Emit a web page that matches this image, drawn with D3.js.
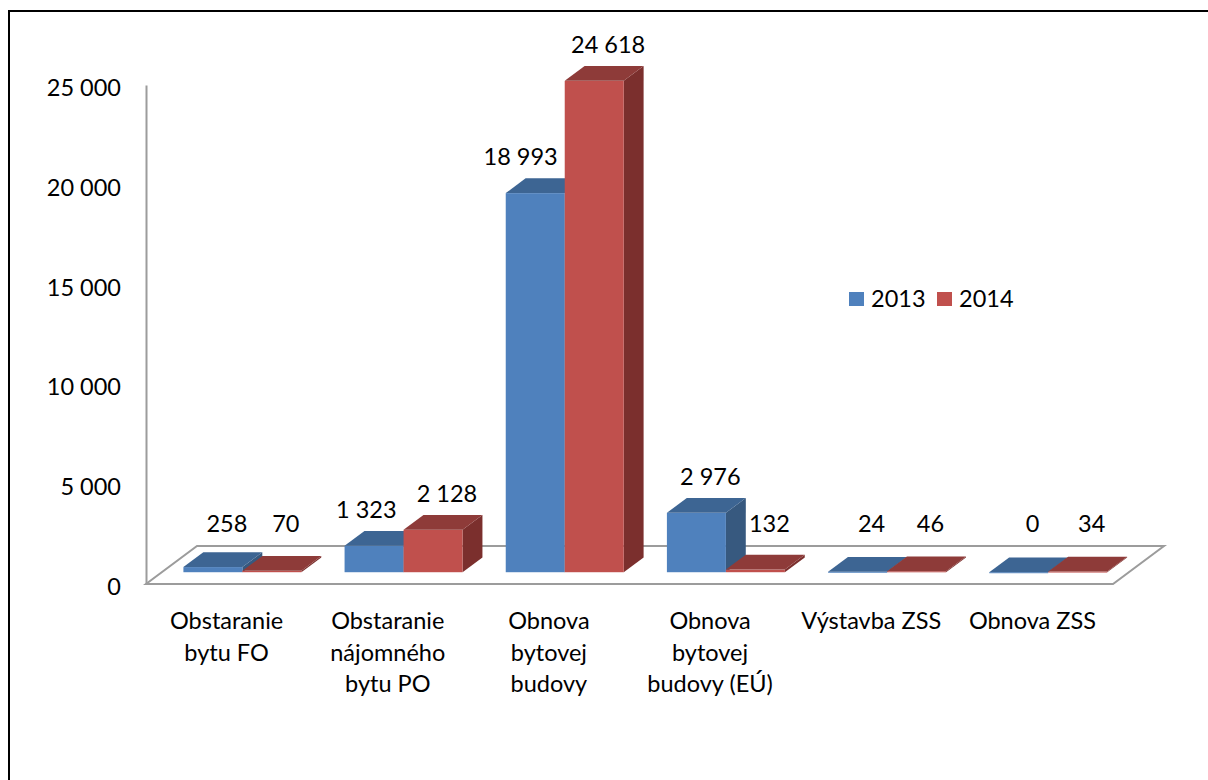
<!DOCTYPE html>
<html>
<head>
<meta charset="utf-8">
<script src="https://cdn.jsdelivr.net/npm/d3@7"></script>
<style>
  html, body { margin: 0; padding: 0; background: #fff; }
  svg { display: block; }
  text { font-family: Lato, "Open Sans", sans-serif; fill: #000; }
</style>
</head>
<body>
<svg id="chart" width="1208" height="780"></svg>
<script>
// ---- data ----
const categories = [
  ["Obstaranie", "bytu FO"],
  ["Obstaranie", "nájomného", "bytu PO"],
  ["Obnova", "bytovej", "budovy"],
  ["Obnova", "bytovej", "budovy (EÚ)"],
  ["Výstavba ZSS"],
  ["Obnova ZSS"]
];
const seriesNames = ["2013", "2014"];
const values2013 = [258, 1323, 18993, 2976, 24, 0];
const values2014 = [70, 2128, 24618, 132, 46, 34];
const yTicks = [0, 5000, 10000, 15000, 20000, 25000];

const series = [values2013, values2014];
const colors = [
  { front: "#4F81BD", top: "#3D6593", side: "#37597F" },
  { front: "#C0504D", top: "#8E3B39", side: "#7B2F2D" }
];

const FONT = 23.5;
const svg = d3.select("#chart");
const fmt = d3.formatLocale({ decimal: ",", thousands: " ", grouping: [3], currency: ["", ""] }).format(",d");

// outer border
svg.append("rect").attr("x", 9).attr("y", 11).attr("width", 1400).attr("height", 1000)
  .attr("fill", "none").attr("stroke", "#000").attr("stroke-width", 2);

// ---- scales ----
const y = d3.scaleLinear().domain([0, 25000]).range([584, 85]);
const x = d3.scaleBand().domain(d3.range(categories.length)).range([146, 1113])
  .paddingInner(0.268).paddingOuter(0.134);
const xs = d3.scaleBand().domain(d3.range(series.length)).range([0, x.bandwidth()]);

// 3D projection
const floorDepth = [51, -38];
const frontFrac = 0.31, depthFrac = 0.39;
const off = [floorDepth[0] * frontFrac, floorDepth[1] * frontFrac];
const dep = [floorDepth[0] * depthFrac, floorDepth[1] * depthFrac];

// floor
const [x0, x1] = x.range();
const y0 = y(0);
svg.append("polygon")
  .attr("points", [[x0, y0], [x1, y0], [x1 + floorDepth[0], y0 + floorDepth[1]], [x0 + floorDepth[0], y0 + floorDepth[1]]].map(p => p.join(",")).join(" "))
  .attr("fill", "#fff").attr("stroke", "#9C9C9C").attr("stroke-width", 2).attr("stroke-linejoin", "miter");

// y axis
const yAxis = d3.axisLeft(y).tickValues(yTicks).tickSize(0).tickSizeOuter(0).tickPadding(25).tickFormat(fmt);
const ga = svg.append("g").attr("transform", `translate(${x0},0)`).call(yAxis);
ga.select(".domain").attr("stroke", "#9C9C9C").attr("stroke-width", 2);
ga.selectAll("text").attr("font-size", FONT).attr("font-family", "Lato, 'Open Sans', sans-serif")
  .attr("fill", "#000").attr("dy", "0.32em").attr("y", 3);

// bars (left to right)
const bars = [];
categories.forEach((c, i) => {
  series.forEach((vals, s) => {
    const v = vals[i];
    const bx = x(i) + xs(s) + off[0];
    const bw = xs.bandwidth();
    const yb = y(0) + off[1];
    const yt = y(v) + off[1];
    bars.push({ i, s, v, bx, bw, yb, yt });
  });
});
const gb = svg.append("g");
bars.forEach(b => {
  const col = colors[b.s];
  const h = b.yb - b.yt;
  // side face
  gb.append("polygon")
    .attr("points", [[b.bx + b.bw, b.yt], [b.bx + b.bw + dep[0], b.yt + dep[1]], [b.bx + b.bw + dep[0], b.yb + dep[1]], [b.bx + b.bw, b.yb]].map(p => p.join(",")).join(" "))
    .attr("fill", col.side);
  // front face
  gb.append("rect").attr("x", b.bx).attr("y", b.yt).attr("width", b.bw).attr("height", Math.max(h, 1))
    .attr("fill", col.front);
  // top face
  gb.append("polygon")
    .attr("points", [[b.bx, b.yt], [b.bx + dep[0], b.yt + dep[1]], [b.bx + b.bw + dep[0], b.yt + dep[1]], [b.bx + b.bw, b.yt]].map(p => p.join(",")).join(" "))
    .attr("fill", col.top);
});

// data labels
const gl = svg.append("g").attr("font-size", FONT);
bars.forEach(b => {
  const t = gl.append("text").attr("text-anchor", "middle").attr("dominant-baseline", "central")
    .attr("font-size", FONT).text(fmt(b.v));
  const w = t.node().getComputedTextLength();
  let cx = b.bx + b.bw / 2 + dep[0] / 2 + 4;
  const backTop = b.yt + dep[1];
  let cy = Math.min(backTop - 22, 523);
  if (b.s === 0) {
    const nb = bars.find(o => o.i === b.i && o.s === 1);
    if (nb.yt + dep[1] < cy + FONT / 2) {
      cx = Math.min(cx, nb.bx - 7 - w / 2);
    }
  }
  t.attr("x", cx).attr("y", cy);
});

// category labels
const gc = svg.append("g");
categories.forEach((lines, i) => {
  const t = gc.append("text").attr("text-anchor", "middle").attr("font-size", FONT)
    .attr("x", x(i) + x.bandwidth() / 2).attr("y", 620).attr("dominant-baseline", "central");
  lines.forEach((ln, k) => {
    t.append("tspan").attr("x", x(i) + x.bandwidth() / 2).attr("y", 620 + k * 31.5).text(ln);
  });
});

// legend
const lg = svg.append("g");
const legendX = [849, 937];
seriesNames.forEach((n, s) => {
  lg.append("rect").attr("x", legendX[s]).attr("y", 292).attr("width", 15).attr("height", 14).attr("fill", colors[s].front);
  lg.append("text").attr("x", legendX[s] + 22).attr("y", 298).attr("dominant-baseline", "central")
    .attr("font-size", FONT).text(n);
});
</script>
</body>
</html>
